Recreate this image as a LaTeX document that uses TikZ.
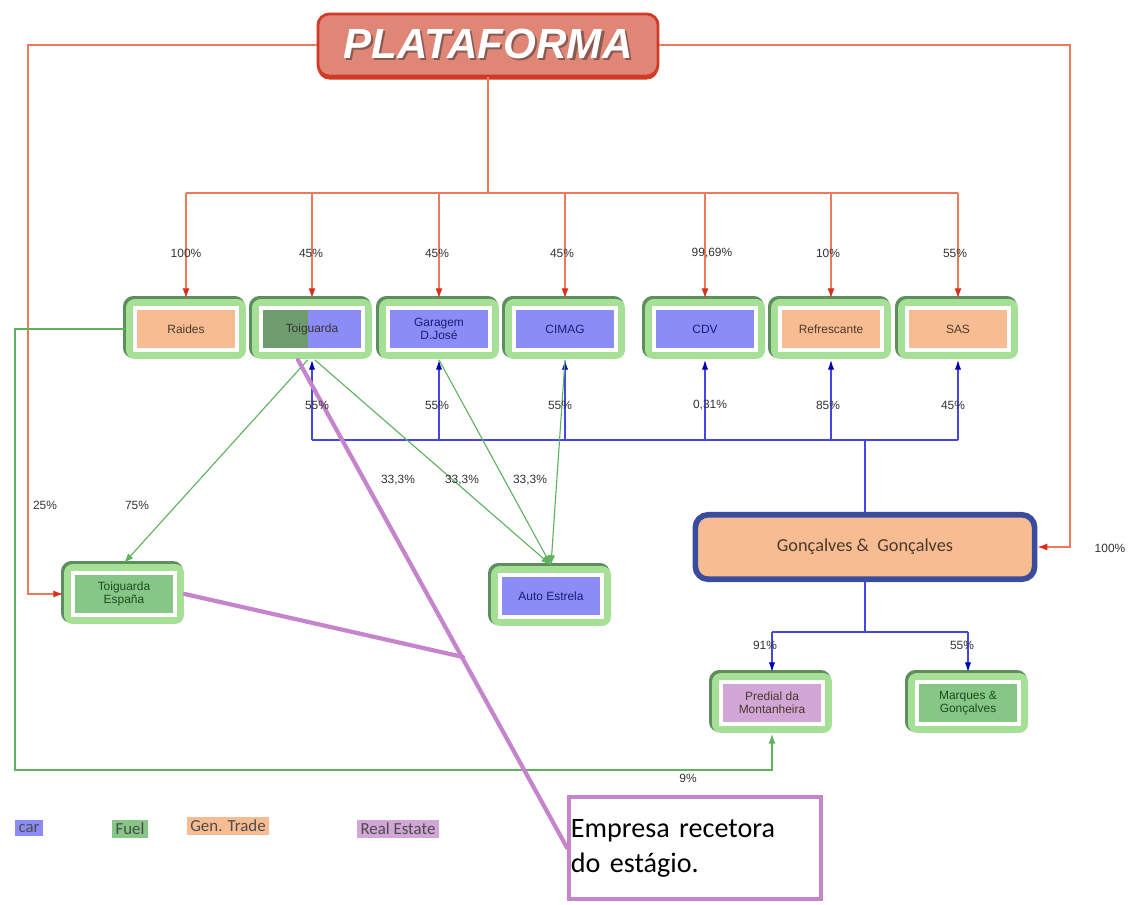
\documentclass[tikz,border=0pt]{standalone}
\usepackage{fontspec}
\setmainfont{Liberation Sans}
\newfontfamily\calfont{Carlito}
\usetikzlibrary{arrows.meta}
\definecolor{platfill}{HTML}{E08676}
\definecolor{platedge}{HTML}{D23A28}
\definecolor{platshadow}{HTML}{8A5A52}
\definecolor{ownline}{HTML}{EE7A5E}
\definecolor{ownred}{HTML}{D8301C}
\definecolor{carfill}{HTML}{8C8CF6}
\definecolor{cartext}{HTML}{1C1C78}
\definecolor{fuelfill}{HTML}{86C686}
\definecolor{fueldark}{HTML}{6E9C6E}
\definecolor{fueltext}{HTML}{1E4E1E}
\definecolor{tradefill}{HTML}{F8BC92}
\definecolor{tradetext}{HTML}{4A3A2A}
\definecolor{realfill}{HTML}{D2A6D6}
\definecolor{realline}{HTML}{C584CC}
\definecolor{rimgreen}{HTML}{A6E096}
\definecolor{rimdark}{HTML}{5E8E5E}
\definecolor{carline}{HTML}{4646E2}
\definecolor{fuelline}{HTML}{5EB25E}
\definecolor{ggblue}{HTML}{3A4C9E}
\begin{document}
\begin{tikzpicture}[x=0.025cm,y=-0.025cm,
  firm/.style={rectangle,minimum width=2.55cm,minimum height=1.05cm,inner sep=1pt,align=center,
    font=\fontsize{8.5}{9.5}\selectfont,draw=white,line width=2.5pt,outer sep=7pt,
    preaction={draw=rimdark,line width=14pt,line join=round,transform canvas={shift={(-1.2pt,1.2pt)}}},
    preaction={draw=rimgreen,line width=13pt,line join=round}},
  carbox/.style={firm,fill=carfill,text=cartext},
  fuelbox/.style={firm,fill=fuelfill,text=fueltext},
  tradebox/.style={firm,fill=tradefill,text=tradetext},
  realbox/.style={firm,fill=realfill,text=tradetext},
  plat/.style={rectangle,fill=platfill,draw=platedge,line width=2pt,rounded corners=8pt,
    minimum width=8.5cm,minimum height=1.55cm,text=white,font=\fontsize{30}{32}\selectfont\bfseries\itshape,
    preaction={fill=platedge,transform canvas={yshift=-2.5pt}}},
  gg/.style={rectangle,fill=tradefill,draw=ggblue,line width=4pt,rounded corners=9pt,
    minimum width=8.48cm,minimum height=1.61cm,font=\calfont\fontsize{13}{14}\selectfont,text=tradetext},
  note/.style={rectangle,draw=realline,line width=2.5pt,minimum width=6.3cm,minimum height=2.55cm,
    inner sep=1pt,text width=6.2cm,align=left,font=\calfont\fontsize{20}{25}\selectfont},
  own/.style={draw=ownline,line width=0.8pt},
  ownto/.style={own,-{Latex[length=7pt,width=5pt,color=ownred]}},
  car/.style={draw=carline,line width=0.9pt},
  carto/.style={car,-{Latex[length=7pt,width=4.5pt,color=blue!70!black]}},
  fuel/.style={draw=fuelline,line width=0.8pt,-{Latex[length=7pt,width=5pt]}},
  recv/.style={draw=realline,line width=3pt,line cap=round},
  pct/.style={font=\fontsize{8.5}{9}\selectfont,text=black!80,inner sep=1pt},
  legend/.style={fill=#1,font=\calfont\fontsize{12}{13}\selectfont,inner sep=2.5pt,text=black!70}]
\useasboundingbox (0,0) rectangle (1131,904);

\node[plat] (plat) at (488,45) {\rlap{\kern1.5pt\raisebox{-1.5pt}{\textcolor{platshadow}{PLATAFORMA}}}PLATAFORMA};

\node[tradebox] (raides) at (186,329) {Raides};
\node[carbox,text=black!80,path picture={\fill[fueldark] (path picture bounding box.south west) rectangle ([xshift=-3pt]path picture bounding box.north);}] (toig) at (312,329) {Toiguarda};
\node[carbox] (garag) at (439,329) {Garagem\\D.José};
\node[carbox] (cimag) at (565,329) {CIMAG};
\node[carbox] (cdv) at (705,329) {CDV};
\node[tradebox] (refr) at (831,329) {Refrescante};
\node[tradebox] (sas) at (958,329) {SAS};
\node[fuelbox] (tesp) at (124,594) {Toiguarda\\España};
\node[carbox] (auto) at (551,596) {Auto Estrela};
\node[gg] (gg) at (865,547) {Gonçalves \&\ \ Gonçalves};
\node[realbox] (pred) at (772,703) {Predial da\\Montanheira};
\node[fuelbox] (marq) at (968,703) {Marques \&\\Gonçalves};
\node[note] (note) at (695,848) {Empresa recetora\\do estágio.};

\coordinate (lc) at (28,45);
\coordinate (rc) at (1070,45);
\coordinate (tb) at (488,193);
\coordinate (bb) at (865,440);
\coordinate (gb) at (865,632);
\coordinate (fb) at (15,770);
\coordinate (mj) at (463,657);

\draw[own] (plat.south) -- (tb);
\draw[own] (raides.north |- tb) -- (sas.north |- tb);
\draw[ownto] (raides.north |- tb) -- (raides.north);
\draw[ownto] (toig.north |- tb) -- (toig.north);
\draw[ownto] (garag.north |- tb) -- (garag.north);
\draw[ownto] (cimag.north |- tb) -- (cimag.north);
\draw[ownto] (cdv.north |- tb) -- (cdv.north);
\draw[ownto] (refr.north |- tb) -- (refr.north);
\draw[ownto] (sas.north |- tb) -- (sas.north);
\draw[ownto] (plat.west) -- (lc) |- (tesp.west);
\draw[ownto] (plat.east) -- (rc) |- (gg.east);

\draw[car] (toig.south |- bb) -- (sas.south |- bb);
\draw[car,line width=1.6pt] (bb) -- (gg.north);
\draw[carto] (toig.south |- bb) -- (toig.south);
\draw[carto] (garag.south |- bb) -- (garag.south);
\draw[carto] (cimag.south |- bb) -- (cimag.south);
\draw[carto] (cdv.south |- bb) -- (cdv.south);
\draw[carto] (refr.south |- bb) -- (refr.south);
\draw[carto] (sas.south |- bb) -- (sas.south);
\draw[car,line width=1.6pt] (gg.south) -- (gb);
\draw[car] (pred.north |- gb) -- (marq.north |- gb);
\draw[carto] (pred.north |- gb) -- (pred.north);
\draw[carto] (marq.north |- gb) -- (marq.north);

\draw[fuel] ([xshift=-3pt]toig.south) -- (tesp.north);
\draw[fuel] ([xshift=2pt]toig.south) -- (auto.north);
\draw[fuel] (garag.south) -- (auto.north);
\draw[fuel] (cimag.south) -- (auto.north);
\draw[fuel] (raides.west) -| (fb) -| (pred.south);

\draw[recv] ([xshift=-10pt]toig.south) -- (note.west);
\draw[recv] (tesp.east) -- (mj);

\node[pct] (p1) at (186,253) {100\%};
\node[pct] (p2) at (311,253) {45\%};
\node[pct] (p3) at (437,253) {45\%};
\node[pct] (p4) at (562,253) {45\%};
\node[pct] (p5) at (712,253) {99,69\%};
\node[pct] (p6) at (828,253) {10\%};
\node[pct] (p7) at (955,253) {55\%};
\node[pct] (q1) at (317,405) {55\%};
\node[pct] (q2) at (437,405) {55\%};
\node[pct] (q3) at (560,405) {55\%};
\node[pct] (q4) at (710,405) {0,31\%};
\node[pct] (q5) at (828,405) {85\%};
\node[pct] (q6) at (953,405) {45\%};
\node[pct] (r1) at (398,480) {33,3\%};
\node[pct] (r2) at (462,480) {33,3\%};
\node[pct] (r3) at (530,480) {33,3\%};
\node[pct] (s1) at (45,505) {25\%};
\node[pct] (s2) at (137,505) {75\%};
\node[pct] (s3) at (1110,548) {100\%};
\node[pct] (s4) at (765,645) {91\%};
\node[pct] (s5) at (962,645) {55\%};
\node[pct] (s6) at (688,778) {9\%};

\node[legend=carfill] (lcar) at (29,828) {car};
\node[legend=fuelfill] (lfuel) at (130,829) {Fuel};
\node[legend=tradefill] (ltrade) at (228,826) {Gen. Trade};
\node[legend=realfill] (lreal) at (398,829) {Real Estate};
\end{tikzpicture}
\end{document}
